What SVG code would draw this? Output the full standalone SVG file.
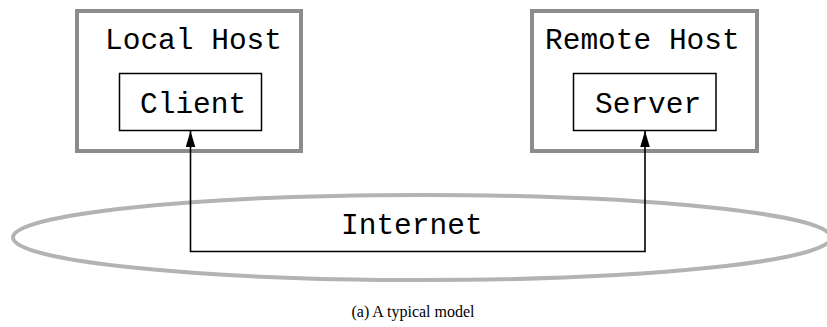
<svg xmlns="http://www.w3.org/2000/svg" width="827" height="327" viewBox="0 0 827 327">
<style>
.host{fill:#fff;stroke:#8c8c8c;stroke-width:4}
.proc{fill:#fff;stroke:#000;stroke-width:1.5}
.mono{font-family:"Liberation Mono","Courier New",monospace;font-size:29.5px;fill:#000}
.cap{font-family:"Liberation Serif","Times New Roman",serif;font-size:16px;fill:#000}
.net{fill:none;stroke:#b3b3b3;stroke-width:4}
.conn{fill:none;stroke:#000;stroke-width:1.6}
</style>
<defs>
<marker id="ah" markerUnits="userSpaceOnUse" markerWidth="16" markerHeight="10" viewBox="0 0 15 9" refX="15" refY="4.5" orient="auto-start-reverse">
<path d="M0,0 L15,4.5 L0,9 Z" fill="#000"/>
</marker>
</defs>
<g id="local-host">
<rect class="host" x="77" y="11" width="224" height="140"/>
<text class="mono" x="105" y="49">Local Host</text>
</g>
<g id="client">
<rect class="proc" x="119.5" y="73.5" width="142" height="57"/>
<text class="mono" x="140" y="113">Client</text>
</g>
<g id="remote-host">
<rect class="host" x="532" y="11" width="225" height="140"/>
<text class="mono" x="545" y="49">Remote Host</text>
</g>
<g id="server">
<rect class="proc" x="573.5" y="73.5" width="142.5" height="57"/>
<text class="mono" x="595" y="113">Server</text>
</g>
<g id="internet">
<ellipse class="net" cx="422" cy="237.5" rx="409" ry="42.5"/>
<text class="mono" x="341" y="234">Internet</text>
</g>
<g id="connectors">
<path class="conn" d="M190.5,131 V251.5 H645 V131" marker-start="url(#ah)" marker-end="url(#ah)"/>
</g>
<text class="cap" x="413" y="317" text-anchor="middle">(a) A typical model</text>
</svg>
